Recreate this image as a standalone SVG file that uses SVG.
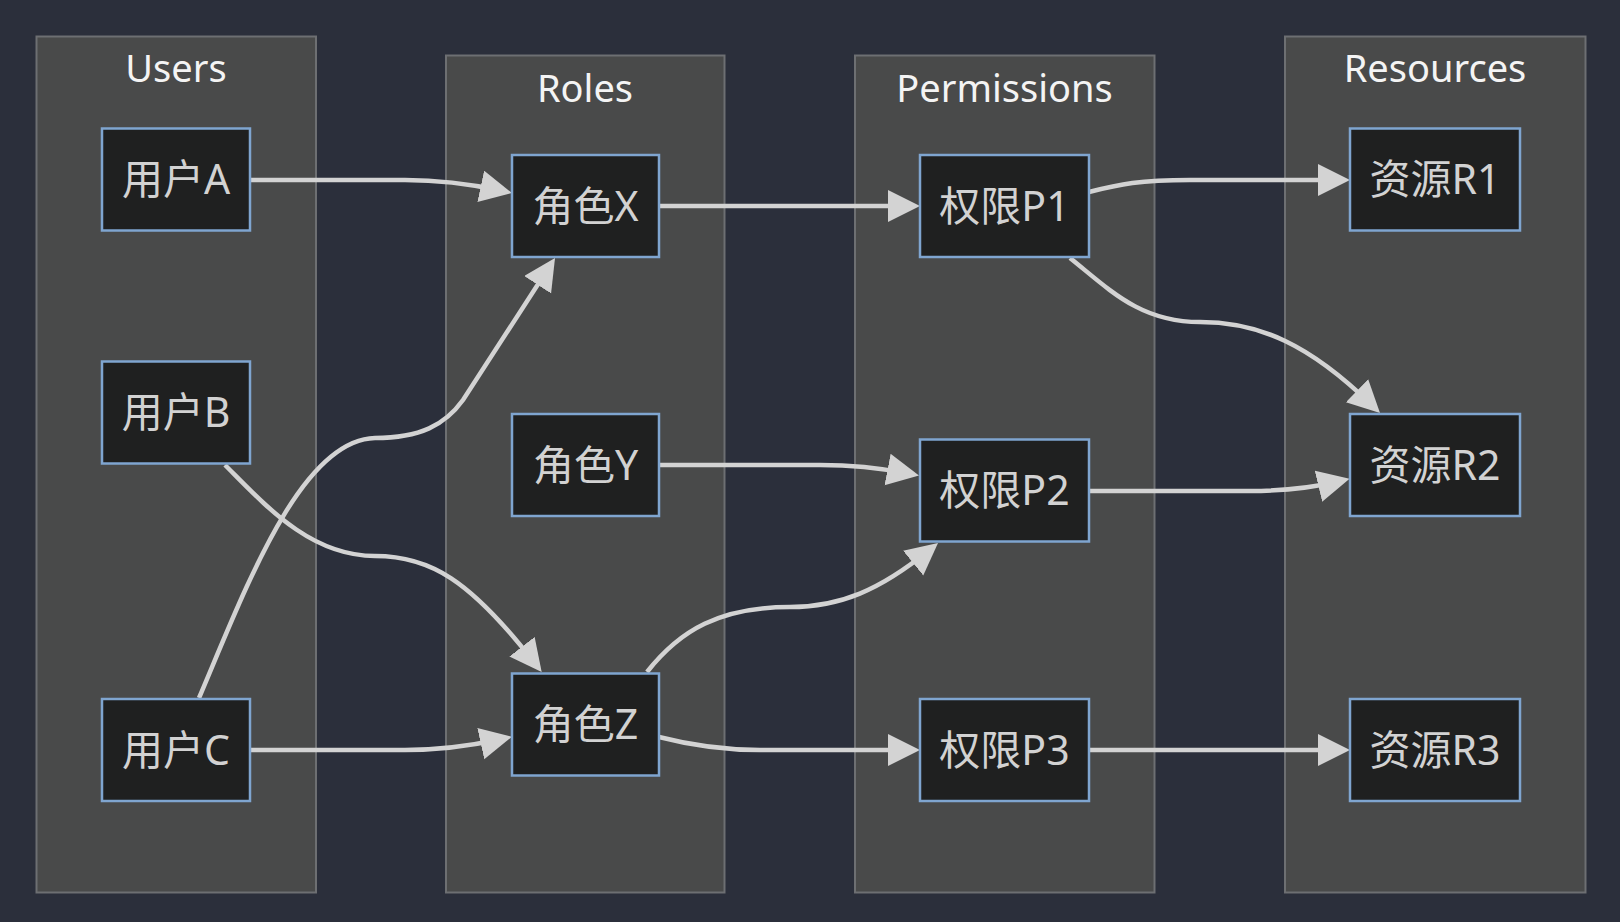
<svg xmlns="http://www.w3.org/2000/svg" width="1620" height="922" viewBox="0 0 1620 922">
<style>
.cluster rect{fill:#494a4a;stroke:#6d6f72;stroke-width:2}
.ctitle{font-family:"Noto Sans","Open Sans",sans-serif;font-size:38px;fill:#f4f4f4;text-anchor:middle}
.node rect{fill:#1f2020;stroke:#7fa5d0;stroke-width:2.5}
.node text{font-family:"Noto Sans","Noto Sans CJK SC",sans-serif;font-size:41px;fill:#d2d2d2;text-anchor:middle}
.edges path{fill:none;stroke:#d3d3d3;stroke-width:4.5}
</style>
<defs>
<marker id="arrow" markerUnits="userSpaceOnUse" markerWidth="34" markerHeight="34" refX="20" refY="16" orient="auto" viewBox="0 0 34 34">
<path d="M0,0 L32,16 L0,32 z" fill="#d3d3d3"/>
</marker>
</defs>
<rect x="0" y="0" width="1620" height="922" fill="#2b2f3b"/>
<g id="cluster-users" class="cluster"><rect x="36.5" y="36.5" width="279.5" height="856"/><text class="ctitle" x="176" y="82">Users</text></g>
<g id="cluster-roles" class="cluster"><rect x="446" y="55.5" width="278.5" height="837"/><text class="ctitle" x="585" y="101.5">Roles</text></g>
<g id="cluster-permissions" class="cluster"><rect x="855" y="55.5" width="299.5" height="837"/><text class="ctitle" x="1004.5" y="101.5">Permissions</text></g>
<g id="cluster-resources" class="cluster"><rect x="1285" y="36.5" width="300.5" height="856"/><text class="ctitle" x="1435" y="82">Resources</text></g>
<g class="edges" id="edges">
<path d="M250,180 L405,180 C440,180 470,184 500.3,190.5" marker-end="url(#arrow)"/>
<path d="M199,698 C245,590 300,440 375,438 C420,438 445,425 463,400 L548.5,268" marker-end="url(#arrow)"/>
<path d="M225,465 C265,505 310,556 375,556 C430,556 470,580 534.3,662.5" marker-end="url(#arrow)"/>
<path d="M250,750 L405,750 C440,750 470,746 500.3,739.3" marker-end="url(#arrow)"/>
<path d="M659,206 L908,206" marker-end="url(#arrow)"/>
<path d="M659,465 L820,465 C855,465 880,468 907.2,473.3" marker-end="url(#arrow)"/>
<path d="M647,672 C680,630 720,607 790,607 C840,607 880,590 928.7,550.5" marker-end="url(#arrow)"/>
<path d="M659,737 C690,745 720,750 760,750 L908,750" marker-end="url(#arrow)"/>
<path d="M1089,192 C1120,184 1140,180 1190,180 L1338,180" marker-end="url(#arrow)"/>
<path d="M1070,258 C1110,290 1140,322 1200,322 C1260,322 1310,345 1371.4,404.6" marker-end="url(#arrow)"/>
<path d="M1089,491 L1250,491 C1290,491 1315,487 1337.9,481.5" marker-end="url(#arrow)"/>
<path d="M1089,750 L1338,750" marker-end="url(#arrow)"/>
</g>
<g id="node-userA" class="node"><rect x="102" y="128.5" width="148" height="102"/><text x="176" y="194">用户A</text></g>
<g id="node-userB" class="node"><rect x="102" y="361.5" width="148" height="102"/><text x="176" y="427">用户B</text></g>
<g id="node-userC" class="node"><rect x="102" y="699" width="148" height="102"/><text x="176" y="764.5">用户C</text></g>
<g id="node-roleX" class="node"><rect x="512" y="155" width="147" height="102"/><text x="585.5" y="220.5">角色X</text></g>
<g id="node-roleY" class="node"><rect x="512" y="414" width="147" height="102"/><text x="585.5" y="479.5">角色Y</text></g>
<g id="node-roleZ" class="node"><rect x="512" y="673.5" width="147" height="102"/><text x="585.5" y="739">角色Z</text></g>
<g id="node-permP1" class="node"><rect x="920" y="155" width="169" height="102"/><text x="1004.5" y="220.5">权限P1</text></g>
<g id="node-permP2" class="node"><rect x="920" y="439.5" width="169" height="102"/><text x="1004.5" y="505">权限P2</text></g>
<g id="node-permP3" class="node"><rect x="920" y="699" width="169" height="102"/><text x="1004.5" y="764.5">权限P3</text></g>
<g id="node-resR1" class="node"><rect x="1350" y="128.5" width="170" height="102"/><text x="1435" y="194">资源R1</text></g>
<g id="node-resR2" class="node"><rect x="1350" y="414" width="170" height="102"/><text x="1435" y="479.5">资源R2</text></g>
<g id="node-resR3" class="node"><rect x="1350" y="699" width="170" height="102"/><text x="1435" y="764.5">资源R3</text></g>
</svg>
